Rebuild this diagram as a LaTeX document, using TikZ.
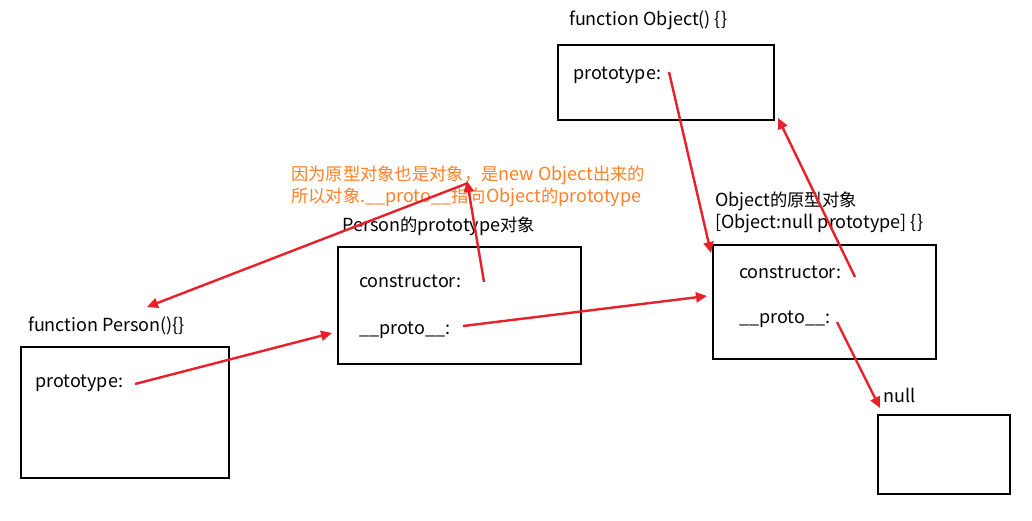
\documentclass[tikz,border=0pt]{standalone}
\usepackage{fontspec}
\setmainfont{Noto Sans CJK SC}
\newfontfamily\cjk[Scale=0.96]{Noto Sans CJK SC}
\newcommand\zh[1]{{\cjk #1}}
\usetikzlibrary{arrows.meta}
\definecolor{arrred}{RGB}{232,32,42}
\definecolor{noteorange}{RGB}{255,128,40}
\begin{document}
\begin{tikzpicture}[x=1pt,y=-1pt,
  box/.style={draw=black,line width=2.2pt},
  lbl/.style={anchor=base west,inner sep=0pt,font=\fontsize{18}{21}\selectfont},
  note/.style={lbl,text=noteorange},
  link/.style={draw=arrred,line width=2.4pt,-{Triangle[length=11pt,width=10pt]}}]
\useasboundingbox[fill=white] (0,0) rectangle (1032,521);
% boxes
\draw[box] (558,45) rectangle (774,120);
\draw[box] (338,247) rectangle (581,364);
\draw[box] (713,245) rectangle (936,359);
\draw[box] (878,415) rectangle (1010,494);
\draw[box] (21,347) rectangle (229,478);
% labels
\node[lbl] (fobj) at (569,26) {function Object() \{\}};
\node[lbl] (objproto) at (573,80) {prototype:};
\node[lbl] (optitle1) at (715,207) {Object\zh{的原型对象}};
\node[lbl] (optitle2) at (715,229) {[Object:null prototype] \{\}};
\node[lbl] (opcons) at (739,278) {constructor:};
\node[lbl] (opproto) at (739,323) {\_\_proto\_\_:};
\node[lbl] (nulllbl) at (883,402) {null};
\node[lbl] (pptitle) at (342,231) {Person\zh{的}prototype\zh{对象}};
\node[lbl] (ppcons) at (359,287) {constructor:};
\node[lbl] (ppproto) at (359,334) {\_\_proto\_\_:};
\node[lbl] (fperson) at (28,331) {function Person()\{\}};
\node[lbl] (perproto) at (35,387) {prototype:};
\node[note] (note1) at (291,181) {\zh{因为原型对象也是对象，是}new Object\zh{出来的}};
\node[note] (note2) at (291,203) {\zh{所以对象}.\_\_proto\_\_\zh{指向}Object\zh{的}prototype};
% connector points
\coordinate (a1s) at (135,384);
\coordinate (a1e) at (332,333);
\coordinate (a2s) at (463,326);
\coordinate (a2e) at (707,296);
\coordinate (a3s) at (484,282);
\coordinate (a3e) at (467,181);
\coordinate (a4s) at (468,183);
\coordinate (a4e) at (147,307);
\coordinate (a5s) at (669,72);
\coordinate (a5e) at (711,253);
\coordinate (a6s) at (855,277);
\coordinate (a6e) at (778,118);
\coordinate (a7s) at (837,322);
\coordinate (a7e) at (880,408);
\draw[link] (a1s) -- (a1e);
\draw[link] (a2s) -- (a2e);
\draw[link] (a3s) -- (a3e);
\draw[link] (a4s) -- (a4e);
\draw[link] (a5s) -- (a5e);
\draw[link] (a6s) -- (a6e);
\draw[link] (a7s) -- (a7e);
\end{tikzpicture}
\end{document}
